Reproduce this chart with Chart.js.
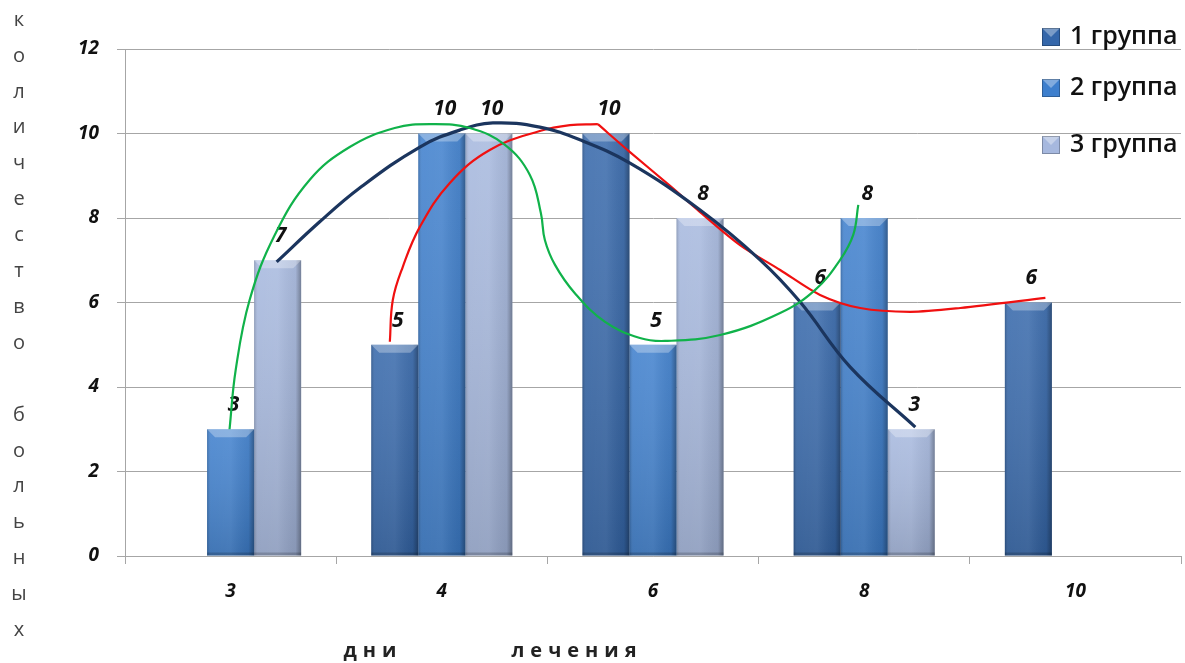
<!DOCTYPE html>
<html>
<head>
<meta charset="utf-8">
<script src="https://cdn.jsdelivr.net/npm/chart.js@4.4.1/dist/chart.umd.min.js"></script>
<style>
    html, body { margin: 0; padding: 0; background: #ffffff; }
    #wrap { width: 1185px; height: 663px; position: relative; }
    #wrap canvas { position: absolute; left: 0; top: 0; }
</style>
</head>
<body>
<div id="wrap">
    <canvas id="daysChart" width="1185" height="663"></canvas>
    <canvas id="curveChart" width="1185" height="663"></canvas>
</div>
<script>
// дни лечения
const days = ["3", "4", "6", "8", "10"];

// количество больных по группам
const group1 = [null, 5, 10, 6, 6];
const group2 = [3, 10, 5, 8, null];
const group3 = [7, 10, 8, 3, null];

const groupNames = ["1 группа", "2 группа", "3 группа"];

// hand-drawn trend curves, x = category position, y = count
const greenCurve = [
    [-0.005, 3.0], [0.024, 4.4], [0.09, 6.06], [0.209, 7.6], [0.374, 8.9], [0.564, 9.68],
    [0.777, 10.13], [0.953, 10.22], [1.133, 10.13], [1.299, 9.73], [1.417, 9.02], [1.469, 8.12],
    [1.488, 7.48], [1.536, 6.89], [1.63, 6.22], [1.773, 5.54], [1.938, 5.16], [2.057, 5.09],
    [2.318, 5.23], [2.602, 5.75], [2.768, 6.3], [2.886, 7.01], [2.948, 7.6], [2.972, 8.31]
];
const navyCurve = [
    [0.218, 6.96], [0.422, 7.91], [0.611, 8.71], [0.896, 9.68], [1.085, 10.08], [1.242, 10.25],
    [1.464, 10.15], [1.654, 9.85], [1.891, 9.3], [2.223, 8.19], [2.507, 7.01], [2.697, 6.01],
    [2.934, 4.47], [3.242, 3.05]
];
const redRise = [
    [0.754, 5.07], [0.768, 6.06], [0.815, 6.84], [0.896, 7.79], [1.038, 8.83], [1.227, 9.61],
    [1.464, 10.06], [1.607, 10.2], [1.739, 10.22]
];
const redFall = [
    [1.739, 10.22], [1.891, 9.56], [2.081, 8.76], [2.223, 8.14], [2.412, 7.36], [2.602, 6.77],
    [2.791, 6.18], [2.981, 5.87], [3.218, 5.78], [3.455, 5.87], [3.858, 6.11]
];

const barColors = ["#3567aa", "#3e7fcd", "#a6b8de"];
const yTitle = "количество больных";

// plot box shared by both canvases
const plotPad = { top: 49, right: 4, left: 125, bottom: 107 };

function toPoints(list) {
    return list.map(function (p) { return { x: p[0], y: p[1] }; });
}

function curve(points, color, width, tension) {
    return {
        data: toPoints(points),
        borderColor: color,
        borderWidth: width,
        tension: tension,
        pointRadius: 0,
        fill: false
    };
}

// bevelled look of the bars
function shadeBar(ctx, x0, x1, top, bottom) {
    const w = x1 - x0;
    const v = ctx.createLinearGradient(0, top, 0, bottom);
    v.addColorStop(0, "rgba(255,255,255,0.08)");
    v.addColorStop(1, "rgba(0,0,0,0.14)");
    ctx.fillStyle = v;
    ctx.fillRect(x0, top, w, bottom - top);
    const g = ctx.createLinearGradient(x0, 0, x1, 0);
    g.addColorStop(0, "rgba(0,0,0,0.18)");
    g.addColorStop(0.08, "rgba(255,255,255,0.06)");
    g.addColorStop(0.5, "rgba(255,255,255,0.08)");
    g.addColorStop(0.88, "rgba(0,0,0,0.05)");
    g.addColorStop(1, "rgba(0,0,0,0.32)");
    ctx.fillStyle = g;
    ctx.fillRect(x0, top, w, bottom - top);
    const b = Math.min(8, (bottom - top) / 2);
    ctx.beginPath();
    ctx.moveTo(x0, top);
    ctx.lineTo(x1, top);
    ctx.lineTo(x1 - b, top + b);
    ctx.lineTo(x0 + b, top + b);
    ctx.closePath();
    ctx.fillStyle = "rgba(255,255,255,0.3)";
    ctx.fill();
    ctx.fillStyle = "rgba(0,0,0,0.18)";
    ctx.fillRect(x0, bottom - 3, w, 3);
}

const barShading = {
    id: "barShading",
    afterDatasetDraw: function (chart, args) {
        const ctx = chart.ctx;
        ctx.save();
        args.meta.data.forEach(function (bar, i) {
            if (chart.data.datasets[args.index].data[i] == null) return;
            const p = bar.getProps(["x", "y", "base", "width"], true);
            shadeBar(ctx, p.x - p.width / 2, p.x + p.width / 2, p.y, p.base);
        });
        ctx.restore();
    }
};

const valueLabels = {
    id: "valueLabels",
    afterDatasetsDraw: function (chart) {
        const ctx = chart.ctx;
        ctx.save();
        ctx.font = "italic 700 21px 'Open Sans'";
        ctx.fillStyle = "#111";
        ctx.textAlign = "center";
        ctx.textBaseline = "middle";
        chart.data.datasets.forEach(function (ds, di) {
            chart.getDatasetMeta(di).data.forEach(function (bar, i) {
                const v = ds.data[i];
                if (v == null) return;
                ctx.fillText(String(v), bar.x + 3, bar.y - 24);
            });
        });
        ctx.restore();
    }
};

const extraText = {
    id: "extraText",
    afterDraw: function (chart) {
        const ctx = chart.ctx;
        ctx.save();
        // legend
        ctx.textBaseline = "middle";
        ctx.textAlign = "left";
        ctx.font = "600 25px 'Open Sans'";
        const rows = [37, 88, 145];
        groupNames.forEach(function (name, i) {
            const x = 1042, y = rows[i] - 9, s = 18;
            ctx.fillStyle = barColors[i];
            ctx.fillRect(x, y, s, s);
            ctx.beginPath();
            ctx.moveTo(x, y);
            ctx.lineTo(x + s, y);
            ctx.lineTo(x + s / 2, y + s / 2);
            ctx.closePath();
            ctx.fillStyle = "rgba(255,255,255,0.35)";
            ctx.fill();
            ctx.strokeStyle = "rgba(0,0,0,0.25)";
            ctx.lineWidth = 1;
            ctx.strokeRect(x + 0.5, y + 0.5, s - 1, s - 1);
            ctx.fillStyle = "#111";
            ctx.fillText(name, 1070, rows[i]);
        });
        // vertical y title, one letter per line
        ctx.font = "20px 'Open Sans'";
        ctx.fillStyle = "#444";
        ctx.textAlign = "center";
        Array.from(yTitle).forEach(function (ch, i) {
            if (ch !== " ") ctx.fillText(ch, 19, 20 + i * 35.9);
        });
        // x title
        ctx.font = "700 20px 'Open Sans'";
        ctx.fillStyle = "#222";
        ctx.letterSpacing = "6px";
        ctx.fillText("дни", 373, 651);
        ctx.fillText("лечения", 577, 651);
        ctx.restore();
    }
};

const tickFont = { family: "'Open Sans'", size: 19, style: "italic", weight: "700" };

new Chart(document.getElementById("daysChart"), {
    type: "bar",
    data: {
        labels: days,
        datasets: [
            { label: groupNames[0], data: group1, backgroundColor: barColors[0] },
            { label: groupNames[1], data: group2, backgroundColor: barColors[1] },
            { label: groupNames[2], data: group3, backgroundColor: barColors[2] }
        ]
    },
    options: {
        responsive: false,
        animation: false,
        layout: { padding: { top: plotPad.top, right: plotPad.right, left: 0, bottom: 0 } },
        datasets: {
            bar: { barPercentage: 1, categoryPercentage: 0.668, borderWidth: 0 }
        },
        plugins: {
            legend: { display: false },
            tooltip: { enabled: false }
        },
        scales: {
            x: {
                afterFit: function (scale) { scale.height = plotPad.bottom; },
                grid: { drawOnChartArea: false, drawTicks: true, tickLength: 8, color: "#a6a6a6" },
                border: { color: "#a6a6a6" },
                ticks: { color: "#111", font: tickFont, padding: 16 }
            },
            y: {
                min: 0,
                max: 12,
                afterFit: function (scale) { scale.width = plotPad.left; },
                grid: { color: "#a6a6a6", tickLength: 8 },
                border: { color: "#a6a6a6" },
                ticks: { stepSize: 2, color: "#111", font: tickFont, padding: 18 }
            }
        }
    },
    plugins: [barShading, valueLabels, extraText]
});

// trend curves over the same plot box
new Chart(document.getElementById("curveChart"), {
    type: "line",
    data: {
        datasets: [
            curve(greenCurve, "#10b24a", 2.2, 0.4),
            curve(navyCurve, "#1b355e", 3.2, 0.4),
            curve(redRise, "#f01010", 2.2, 0.4),
            curve(redFall, "#f01010", 2.2, 0.3)
        ]
    },
    options: {
        responsive: false,
        animation: false,
        layout: { padding: plotPad },
        plugins: {
            legend: { display: false },
            tooltip: { enabled: false }
        },
        scales: {
            x: { type: "linear", display: false, min: -0.5, max: 4.5 },
            y: { display: false, min: 0, max: 12 }
        }
    }
});
</script>
</body>
</html>
